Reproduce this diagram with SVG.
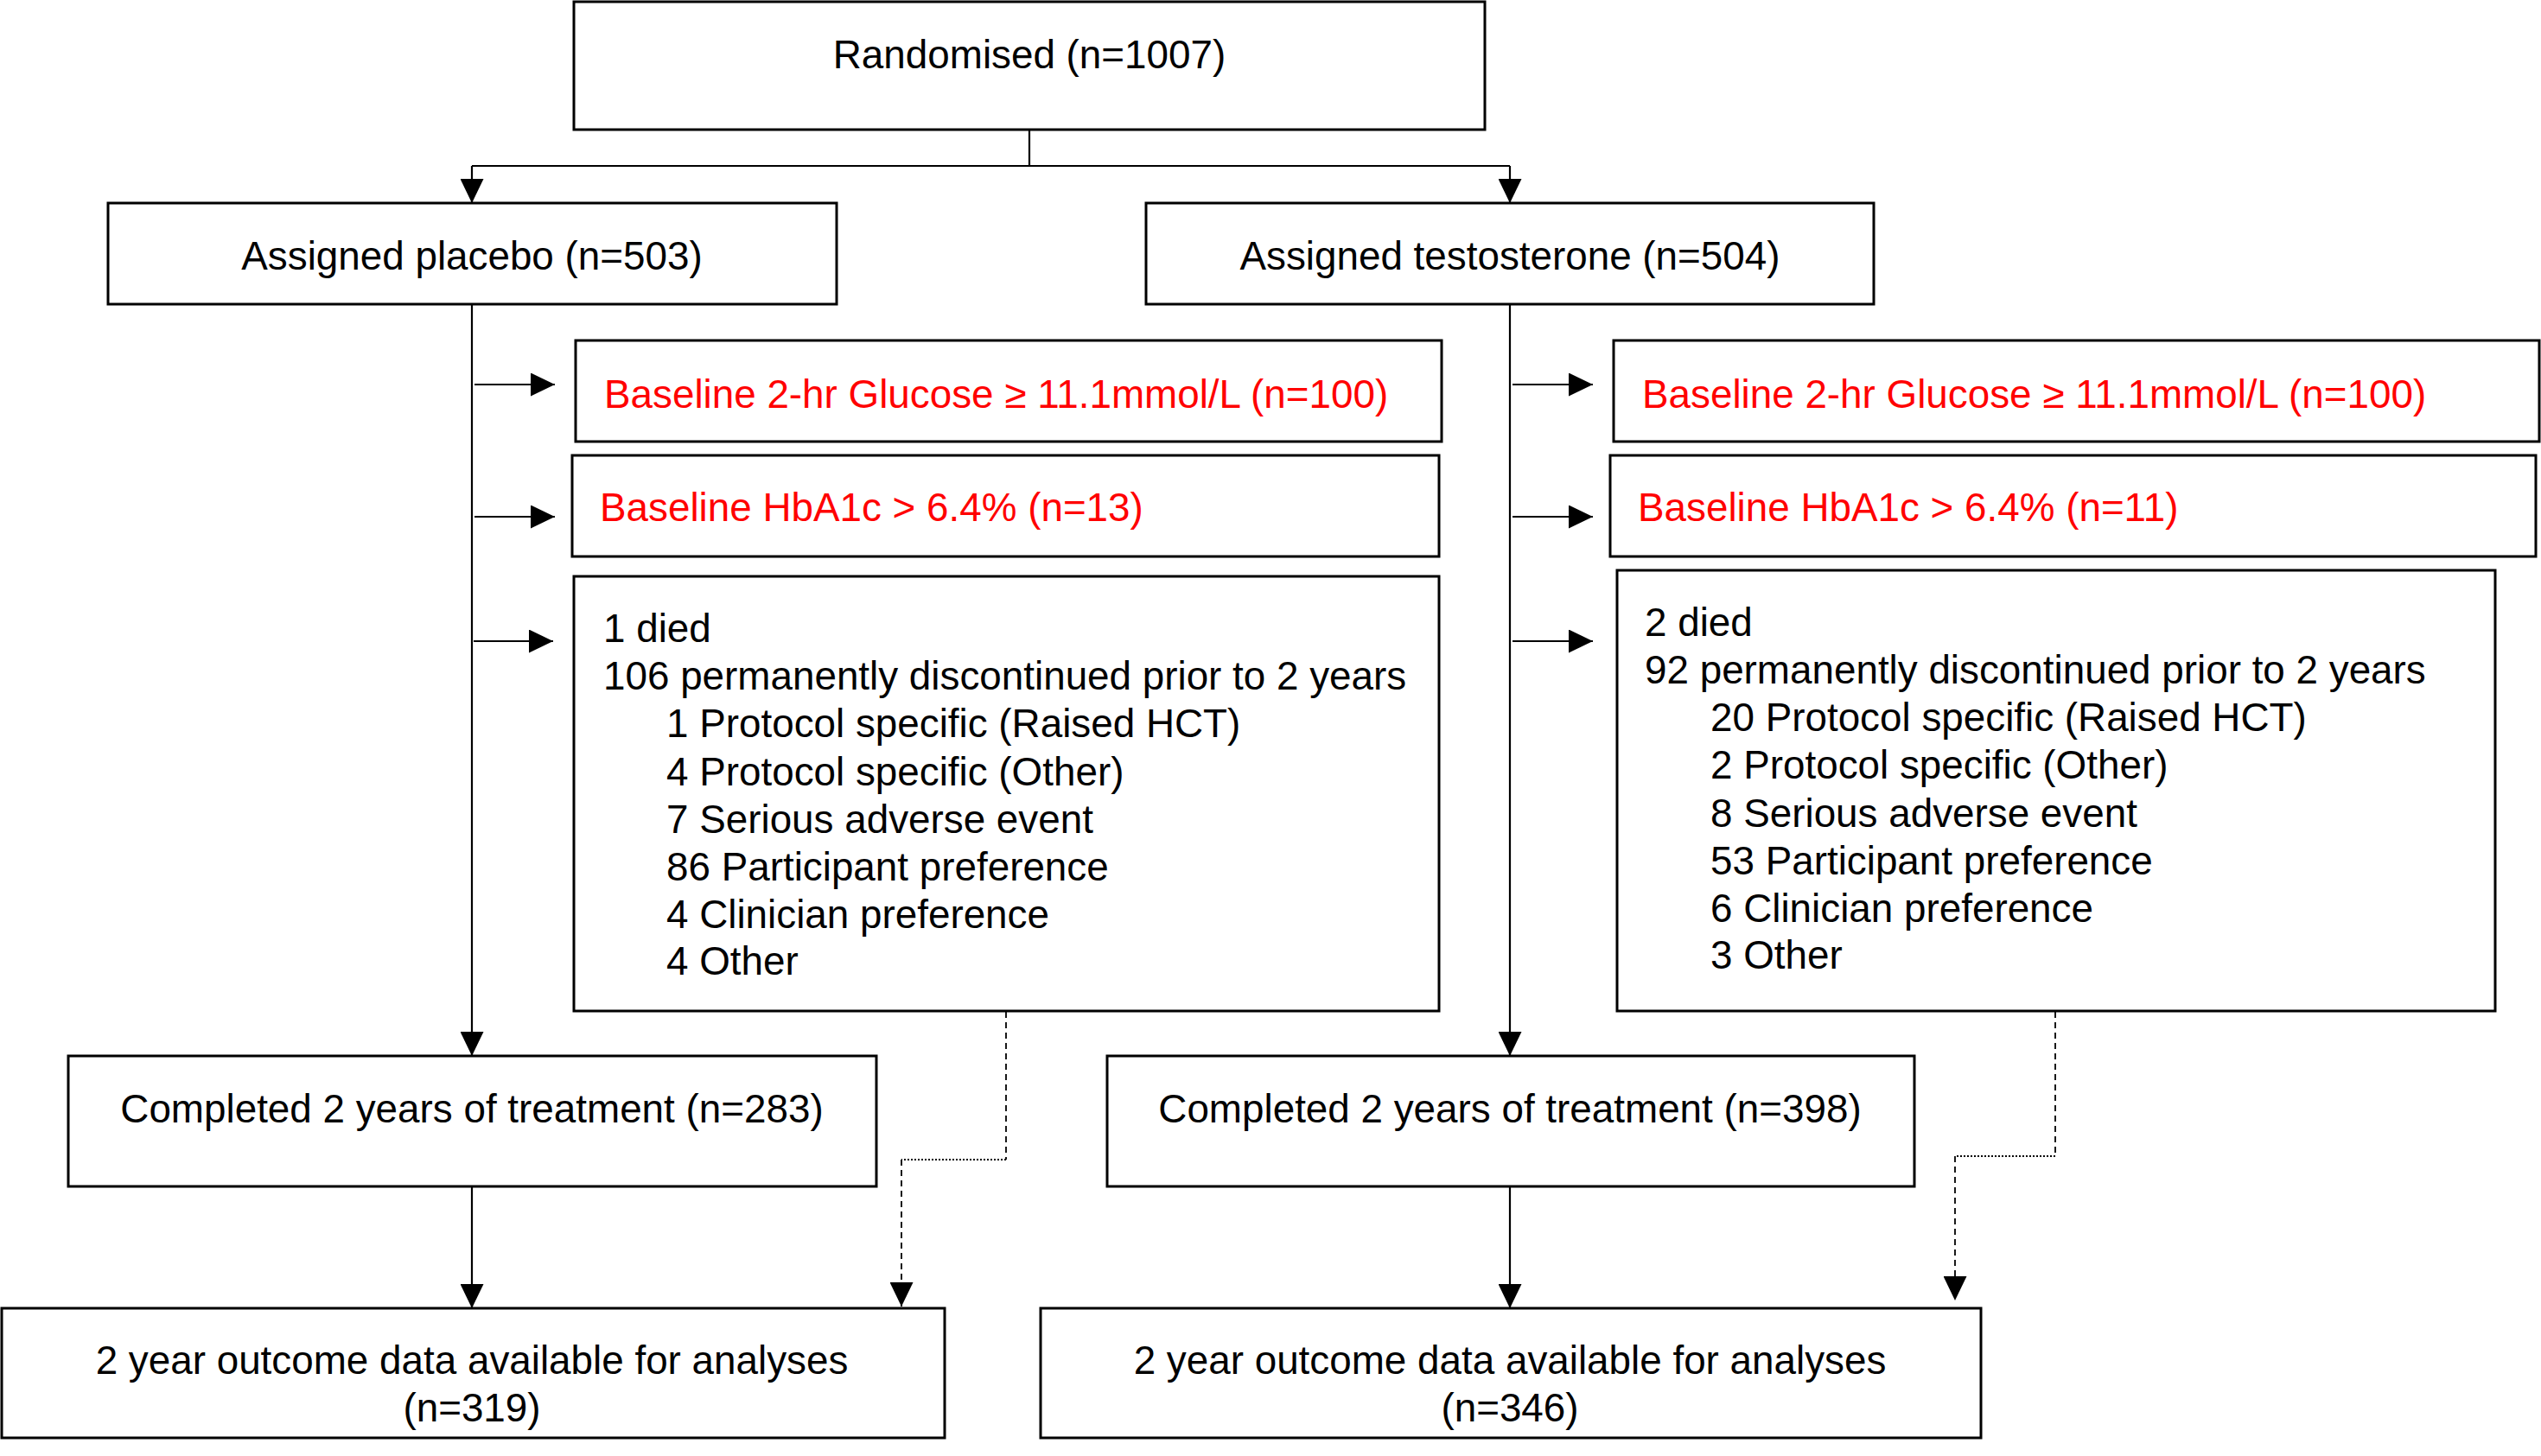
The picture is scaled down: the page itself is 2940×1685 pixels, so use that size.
<svg xmlns="http://www.w3.org/2000/svg" width="2940" height="1685" viewBox="0 0 2940 1685">
<style>
.box{fill:#fff;stroke:#000;stroke-width:3}
.t{font-family:"Liberation Sans",Arial,sans-serif;font-size:45.8px;fill:#000}
.c{text-anchor:middle}
.red{fill:#FF0000}
.ln{fill:none;stroke:#000;stroke-width:2.2}
.dash{fill:none;stroke:#000;stroke-width:1.8;stroke-dasharray:7,5}
.dot{fill:none;stroke:#000;stroke-width:1.8;stroke-dasharray:2,2}
</style>
<defs>
<marker id="ah" markerUnits="userSpaceOnUse" markerWidth="28" markerHeight="27" viewBox="0 0 28 27" refX="28" refY="13.5" orient="auto">
<path d="M0,0 L28,13.5 L0,27 Z" fill="#000"/>
</marker>
</defs>
<rect width="2940" height="1685" fill="#fff"/>
<g id="connectors">
<polyline class="ln" points="1191,150 1191,192"/>
<polyline class="ln" points="546,192 1747,192"/>
<line class="ln" x1="546" y1="192" x2="546" y2="235" marker-end="url(#ah)"/>
<line class="ln" x1="1747" y1="192" x2="1747" y2="235" marker-end="url(#ah)"/>
<line class="ln" x1="546" y1="352" x2="546" y2="1222" marker-end="url(#ah)"/>
<line class="ln" x1="1747" y1="352" x2="1747" y2="1222" marker-end="url(#ah)"/>
<line class="ln" x1="549" y1="445" x2="642" y2="445" marker-end="url(#ah)"/>
<line class="ln" x1="549" y1="598" x2="642" y2="598" marker-end="url(#ah)"/>
<line class="ln" x1="548" y1="742" x2="640" y2="742" marker-end="url(#ah)"/>
<line class="ln" x1="1750" y1="445" x2="1843" y2="445" marker-end="url(#ah)"/>
<line class="ln" x1="1750" y1="598" x2="1843" y2="598" marker-end="url(#ah)"/>
<line class="ln" x1="1750" y1="742" x2="1843" y2="742" marker-end="url(#ah)"/>
<line class="ln" x1="546" y1="1373" x2="546" y2="1514" marker-end="url(#ah)"/>
<line class="ln" x1="1747" y1="1373" x2="1747" y2="1514" marker-end="url(#ah)"/>
<line class="dash" x1="1164" y1="1171" x2="1164" y2="1342"/>
<line class="dot" x1="1164" y1="1342" x2="1043" y2="1342"/>
<line class="dash" x1="1043" y1="1342" x2="1043" y2="1512" marker-end="url(#ah)"/>
<line class="dash" x1="2378" y1="1171" x2="2378" y2="1338"/>
<line class="dot" x1="2378" y1="1338" x2="2262" y2="1338"/>
<line class="dash" x1="2262" y1="1338" x2="2262" y2="1505" marker-end="url(#ah)"/>
</g>
<g id="randomised">
<rect class="box" x="664" y="2" width="1054" height="148"/>
<text class="t c" x="1191" y="79">Randomised (n=1007)</text>
</g>
<g id="placebo">
<rect class="box" x="125" y="235" width="843" height="117"/>
<text class="t c" x="546" y="312">Assigned placebo (n=503)</text>
</g>
<g id="testosterone">
<rect class="box" x="1326" y="235" width="842" height="117"/>
<text class="t c" x="1747" y="312">Assigned testosterone (n=504)</text>
</g>
<g id="placebo-glucose">
<rect class="box" x="666" y="394" width="1002" height="117"/>
<text class="t red" x="699" y="472">Baseline 2-hr Glucose ≥ 11.1mmol/L (n=100)</text>
</g>
<g id="placebo-hba1c">
<rect class="box" x="662" y="527" width="1003" height="117"/>
<text class="t red" x="694" y="603">Baseline HbA1c &gt; 6.4% (n=13)</text>
</g>
<g id="placebo-discontinued">
<rect class="box" x="664" y="667" width="1001" height="503"/>
<text class="t" x="698" y="743">1 died</text>
<text class="t" x="698" y="798">106 permanently discontinued prior to 2 years</text>
<text class="t" x="771" y="853">1 Protocol specific (Raised HCT)</text>
<text class="t" x="771" y="909">4 Protocol specific (Other)</text>
<text class="t" x="771" y="964">7 Serious adverse event</text>
<text class="t" x="771" y="1019">86 Participant preference</text>
<text class="t" x="771" y="1074">4 Clinician preference</text>
<text class="t" x="771" y="1128">4 Other</text>
</g>
<g id="testosterone-glucose">
<rect class="box" x="1867" y="394" width="1071" height="117"/>
<text class="t red" x="1900" y="472">Baseline 2-hr Glucose ≥ 11.1mmol/L (n=100)</text>
</g>
<g id="testosterone-hba1c">
<rect class="box" x="1863" y="527" width="1071" height="117"/>
<text class="t red" x="1895" y="603">Baseline HbA1c &gt; 6.4% (n=11)</text>
</g>
<g id="testosterone-discontinued">
<rect class="box" x="1871" y="660" width="1016" height="510"/>
<text class="t" x="1903" y="736">2 died</text>
<text class="t" x="1903" y="791">92 permanently discontinued prior to 2 years</text>
<text class="t" x="1979" y="846">20 Protocol specific (Raised HCT)</text>
<text class="t" x="1979" y="901">2 Protocol specific (Other)</text>
<text class="t" x="1979" y="957">8 Serious adverse event</text>
<text class="t" x="1979" y="1012">53 Participant preference</text>
<text class="t" x="1979" y="1067">6 Clinician preference</text>
<text class="t" x="1979" y="1121">3 Other</text>
</g>
<g id="placebo-completed">
<rect class="box" x="79" y="1222" width="935" height="151"/>
<text class="t c" x="546" y="1299">Completed 2 years of treatment (n=283)</text>
</g>
<g id="testosterone-completed">
<rect class="box" x="1281" y="1222" width="934" height="151"/>
<text class="t c" x="1747" y="1299">Completed 2 years of treatment (n=398)</text>
</g>
<g id="placebo-outcome">
<rect class="box" x="2" y="1514" width="1091" height="150"/>
<text class="t c" x="546" y="1590">2 year outcome data available for analyses</text>
<text class="t c" x="546" y="1645">(n=319)</text>
</g>
<g id="testosterone-outcome">
<rect class="box" x="1204" y="1514" width="1088" height="150"/>
<text class="t c" x="1747" y="1590">2 year outcome data available for analyses</text>
<text class="t c" x="1747" y="1645">(n=346)</text>
</g>
</svg>
